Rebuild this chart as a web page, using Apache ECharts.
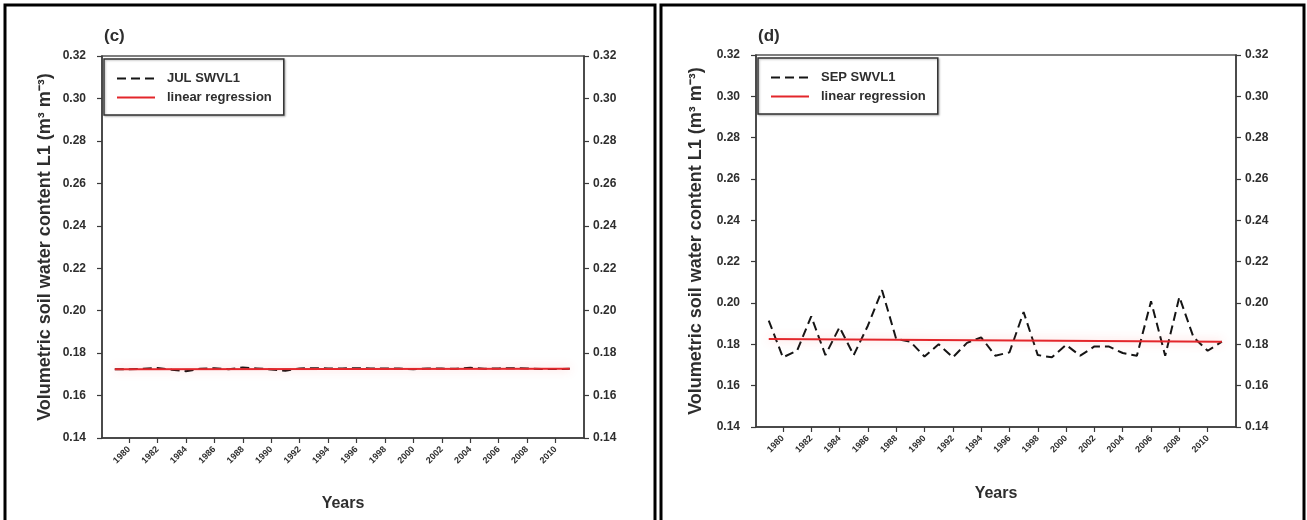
<!DOCTYPE html>
<html>
<head>
<meta charset="utf-8">
<script src="https://cdn.jsdelivr.net/npm/echarts@6/dist/echarts.min.js"></script>
<style>
  html, body { margin: 0; padding: 0; background: #fff; }
  #chart { width: 1307px; height: 520px; }
</style>
</head>
<body>
<div id="chart"></div>
<script>
// Yearly top-layer volumetric soil water content (m3 m-3)
const years = [1979, 1980, 1981, 1982, 1983, 1984, 1985, 1986, 1987, 1988, 1989,
               1990, 1991, 1992, 1993, 1994, 1995, 1996, 1997, 1998, 1999, 2000,
               2001, 2002, 2003, 2004, 2005, 2006, 2007, 2008, 2009, 2010, 2011];

const julSwvl1 = [0.1724, 0.1724, 0.1726, 0.1730, 0.1722, 0.1715, 0.1726, 0.1729, 0.1724, 0.1732, 0.1728,
                  0.1723, 0.1717, 0.1728, 0.1729, 0.1728, 0.1728, 0.1729, 0.1728, 0.1728, 0.1727, 0.1724,
                  0.1728, 0.1727, 0.1726, 0.1731, 0.1726, 0.1728, 0.1729, 0.1728, 0.1725, 0.1725, 0.1726];

const sepSwvl1 = [0.1915, 0.1737, 0.1769, 0.1935, 0.1748, 0.1883, 0.1748, 0.1890, 0.2062, 0.1826, 0.1813,
                  0.1741, 0.1800, 0.1737, 0.1807, 0.1834, 0.1745, 0.1761, 0.1956, 0.1748, 0.1737, 0.1797,
                  0.1745, 0.1790, 0.1790, 0.1758, 0.1745, 0.2008, 0.1745, 0.2029, 0.1834, 0.1769, 0.1813];

// Fitted trend lines (start and end of the record)
const trendYears = [1979, 2011];
const julTrend = [0.1724, 0.1726];
const sepTrend = [0.1826, 0.1813];

// Labelled years on the time axis
const yearTicks = [1980, 1982, 1984, 1986, 1988, 1990, 1992, 1994,
                   1996, 1998, 2000, 2002, 2004, 2006, 2008, 2010];

const pairs = (xs, ys) => xs.map((x, i) => [x, ys[i]]);

const FONT = 'Arial, "Liberation Sans", sans-serif';
const AXIS_COLOR = '#3a3a3a';
const TEXT_COLOR = '#2e2e2e';

function xAxisFor(gridIndex, nameGap) {
  return {
    type: 'value', gridIndex, min: 1978.1, max: 2012,
    name: 'Years', nameLocation: 'middle', nameGap,
    nameTextStyle: { fontFamily: FONT, fontSize: 16, fontWeight: 'bold', color: TEXT_COLOR },
    axisLine: { show: true, lineStyle: { color: AXIS_COLOR, width: 1.5 } },
    axisTick: { show: true, customValues: yearTicks, length: 5, lineStyle: { color: AXIS_COLOR, width: 1.2 } },
    axisLabel: { customValues: yearTicks, formatter: v => String(v), rotate: 45, fontFamily: FONT,
                 fontSize: 9, fontWeight: 'bold', color: TEXT_COLOR, margin: 10 },
    splitLine: { show: false }
  };
}

function yAxisFor(gridIndex, position, nameGap) {
  const left = position === 'left';
  return {
    type: 'value', gridIndex, position, min: 0.14, max: 0.32, interval: 0.02,
    name: left ? 'Volumetric soil water content L1 (m³ m⁻³)' : '',
    nameLocation: 'middle', nameGap,
    nameTextStyle: { fontFamily: FONT, fontSize: 18, fontWeight: 'bold', color: TEXT_COLOR },
    axisLine: { show: true, lineStyle: { color: AXIS_COLOR, width: 1.5 } },
    axisTick: { show: true, length: 5, lineStyle: { color: AXIS_COLOR, width: 1.2 } },
    axisLabel: { formatter: v => v.toFixed(2), fontFamily: FONT, fontSize: 12, fontWeight: 'bold',
                 color: TEXT_COLOR, margin: left ? 16 : 9 },
    splitLine: { show: false }
  };
}

function legendFor(left, top, first) {
  return {
    orient: 'vertical', left, top,
    data: [first, 'linear regression'],
    itemWidth: 38, itemHeight: 14, itemGap: 6,
    padding: [13, 12, 11, 12],
    borderColor: '#333', borderWidth: 1.5, backgroundColor: '#fff',
    shadowColor: 'rgba(0,0,0,0.25)', shadowBlur: 2, shadowOffsetX: 1, shadowOffsetY: 1,
    itemStyle: { opacity: 0 },
    textStyle: { fontFamily: FONT, fontSize: 13, fontWeight: 'bold', color: TEXT_COLOR, padding: [0, 0, 0, 7] },
    selectedMode: false
  };
}

const dataLine = { color: '#151515', width: 2, type: [9, 5] };
const trendLine = { color: '#e3262b', width: 2, shadowColor: 'rgba(255,70,70,0.35)', shadowBlur: 10 };

const option = {
  backgroundColor: '#fff',
  animation: false,
  grid: [
    { left: 102, top: 56, width: 482, height: 382, show: true, borderColor: '#555', borderWidth: 1.5 },
    { left: 756, top: 55, width: 480, height: 372, show: true, borderColor: '#555', borderWidth: 1.5 }
  ],
  xAxis: [xAxisFor(0, 58), xAxisFor(1, 59)],
  yAxis: [yAxisFor(0, 'left', 48), yAxisFor(0, 'right', 0), yAxisFor(1, 'left', 51), yAxisFor(1, 'right', 0)],
  legend: [legendFor(104, 59, 'JUL SWVL1'), legendFor(758, 58, 'SEP SWVL1')],
  series: [
    { name: 'JUL SWVL1', type: 'line', xAxisIndex: 0, yAxisIndex: 0, symbol: 'none',
      data: pairs(years, julSwvl1), lineStyle: dataLine, itemStyle: { color: '#151515' }, z: 2 },
    { name: 'linear regression', type: 'line', xAxisIndex: 0, yAxisIndex: 0, symbol: 'none',
      data: pairs(trendYears, julTrend), lineStyle: trendLine, itemStyle: { color: '#e3262b' }, z: 3 },
    { name: 'SEP SWVL1', type: 'line', xAxisIndex: 1, yAxisIndex: 2, symbol: 'none',
      data: pairs(years, sepSwvl1), lineStyle: dataLine, itemStyle: { color: '#151515' }, z: 2 },
    { name: 'linear regression', type: 'line', xAxisIndex: 1, yAxisIndex: 2, symbol: 'none',
      data: pairs(trendYears, sepTrend), lineStyle: trendLine, itemStyle: { color: '#e3262b' }, z: 3 }
  ],
  graphic: [
    { type: 'rect', shape: { x: 5, y: 5, width: 650, height: 540 },
      style: { fill: 'none', stroke: '#000', lineWidth: 3 }, silent: true },
    { type: 'rect', shape: { x: 661, y: 5, width: 643, height: 540 },
      style: { fill: 'none', stroke: '#000', lineWidth: 3 }, silent: true },
    { type: 'text', left: 104, top: 28,
      style: { text: '(c)', font: 'bold 17px ' + FONT, fill: TEXT_COLOR } },
    { type: 'text', left: 758, top: 28,
      style: { text: '(d)', font: 'bold 17px ' + FONT, fill: TEXT_COLOR } }
  ]
};

echarts.init(document.getElementById('chart')).setOption(option);
</script>
</body>
</html>
